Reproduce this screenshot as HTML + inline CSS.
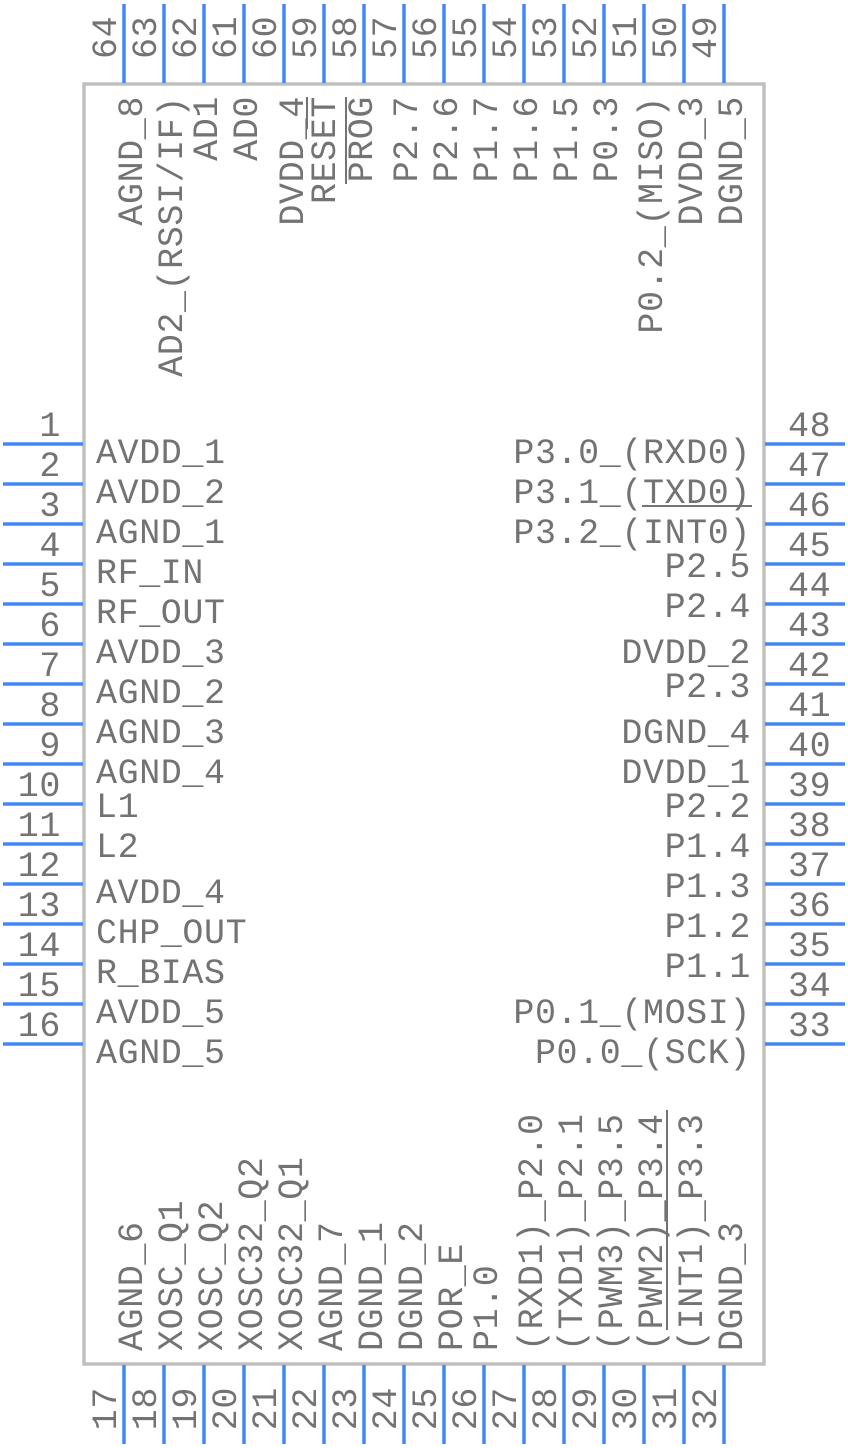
<!DOCTYPE html>
<html>
<head>
<meta charset="utf-8">
<style>
  html, body { margin: 0; padding: 0; background: #ffffff; }
  svg { display: block; }
  text { font-family: "Liberation Mono", "DejaVu Sans Mono", monospace; font-size: 35px; letter-spacing: 0.6px; fill: #737373; }
  .pin { stroke: #4287f5; stroke-width: 3.5; }
  .ol { stroke: #737373; stroke-width: 2; }
</style>
</head>
<body>
<svg width="848" height="1448" viewBox="0 0 848 1448" xmlns="http://www.w3.org/2000/svg">
  <rect x="0" y="0" width="848" height="1448" fill="#ffffff"/>
  <!-- body -->
  <rect x="84" y="84" width="680" height="1280" fill="none" stroke="#c0c0c0" stroke-width="3.5"/>

  <!-- left pins -->
  <g class="pin">
    <line x1="3" y1="444" x2="83" y2="444"/>
    <line x1="3" y1="484" x2="83" y2="484"/>
    <line x1="3" y1="524" x2="83" y2="524"/>
    <line x1="3" y1="564" x2="83" y2="564"/>
    <line x1="3" y1="604" x2="83" y2="604"/>
    <line x1="3" y1="644" x2="83" y2="644"/>
    <line x1="3" y1="684" x2="83" y2="684"/>
    <line x1="3" y1="724" x2="83" y2="724"/>
    <line x1="3" y1="764" x2="83" y2="764"/>
    <line x1="3" y1="804" x2="83" y2="804"/>
    <line x1="3" y1="844" x2="83" y2="844"/>
    <line x1="3" y1="884" x2="83" y2="884"/>
    <line x1="3" y1="924" x2="83" y2="924"/>
    <line x1="3" y1="964" x2="83" y2="964"/>
    <line x1="3" y1="1004" x2="83" y2="1004"/>
    <line x1="3" y1="1044" x2="83" y2="1044"/>
  </g>
  <!-- right pins -->
  <g class="pin">
    <line x1="765" y1="444" x2="845" y2="444"/>
    <line x1="765" y1="484" x2="845" y2="484"/>
    <line x1="765" y1="524" x2="845" y2="524"/>
    <line x1="765" y1="564" x2="845" y2="564"/>
    <line x1="765" y1="604" x2="845" y2="604"/>
    <line x1="765" y1="644" x2="845" y2="644"/>
    <line x1="765" y1="684" x2="845" y2="684"/>
    <line x1="765" y1="724" x2="845" y2="724"/>
    <line x1="765" y1="764" x2="845" y2="764"/>
    <line x1="765" y1="804" x2="845" y2="804"/>
    <line x1="765" y1="844" x2="845" y2="844"/>
    <line x1="765" y1="884" x2="845" y2="884"/>
    <line x1="765" y1="924" x2="845" y2="924"/>
    <line x1="765" y1="964" x2="845" y2="964"/>
    <line x1="765" y1="1004" x2="845" y2="1004"/>
    <line x1="765" y1="1044" x2="845" y2="1044"/>
  </g>
  <!-- top pins -->
  <g class="pin">
    <line x1="124" y1="4" x2="124" y2="83"/>
    <line x1="164" y1="4" x2="164" y2="83"/>
    <line x1="204" y1="4" x2="204" y2="83"/>
    <line x1="244" y1="4" x2="244" y2="83"/>
    <line x1="284" y1="4" x2="284" y2="83"/>
    <line x1="324" y1="4" x2="324" y2="83"/>
    <line x1="364" y1="4" x2="364" y2="83"/>
    <line x1="404" y1="4" x2="404" y2="83"/>
    <line x1="444" y1="4" x2="444" y2="83"/>
    <line x1="484" y1="4" x2="484" y2="83"/>
    <line x1="524" y1="4" x2="524" y2="83"/>
    <line x1="564" y1="4" x2="564" y2="83"/>
    <line x1="604" y1="4" x2="604" y2="83"/>
    <line x1="644" y1="4" x2="644" y2="83"/>
    <line x1="684" y1="4" x2="684" y2="83"/>
    <line x1="724" y1="4" x2="724" y2="83"/>
  </g>
  <!-- bottom pins -->
  <g class="pin">
    <line x1="124" y1="1365" x2="124" y2="1444"/>
    <line x1="164" y1="1365" x2="164" y2="1444"/>
    <line x1="204" y1="1365" x2="204" y2="1444"/>
    <line x1="244" y1="1365" x2="244" y2="1444"/>
    <line x1="284" y1="1365" x2="284" y2="1444"/>
    <line x1="324" y1="1365" x2="324" y2="1444"/>
    <line x1="364" y1="1365" x2="364" y2="1444"/>
    <line x1="404" y1="1365" x2="404" y2="1444"/>
    <line x1="444" y1="1365" x2="444" y2="1444"/>
    <line x1="484" y1="1365" x2="484" y2="1444"/>
    <line x1="524" y1="1365" x2="524" y2="1444"/>
    <line x1="564" y1="1365" x2="564" y2="1444"/>
    <line x1="604" y1="1365" x2="604" y2="1444"/>
    <line x1="644" y1="1365" x2="644" y2="1444"/>
    <line x1="684" y1="1365" x2="684" y2="1444"/>
    <line x1="724" y1="1365" x2="724" y2="1444"/>
  </g>

  <!-- left pin numbers -->
  <g text-anchor="end">
    <text x="61" y="436">1</text>
    <text x="61" y="476">2</text>
    <text x="61" y="516">3</text>
    <text x="61" y="556">4</text>
    <text x="61" y="596">5</text>
    <text x="61" y="636">6</text>
    <text x="61" y="676">7</text>
    <text x="61" y="716">8</text>
    <text x="61" y="756">9</text>
    <text x="61" y="796">10</text>
    <text x="61" y="836">11</text>
    <text x="61" y="876">12</text>
    <text x="61" y="916">13</text>
    <text x="61" y="956">14</text>
    <text x="61" y="996">15</text>
    <text x="61" y="1036">16</text>
  </g>
  <!-- right pin numbers -->
  <g>
    <text x="788" y="436">48</text>
    <text x="788" y="476">47</text>
    <text x="788" y="516">46</text>
    <text x="788" y="556">45</text>
    <text x="788" y="596">44</text>
    <text x="788" y="636">43</text>
    <text x="788" y="676">42</text>
    <text x="788" y="716">41</text>
    <text x="788" y="756">40</text>
    <text x="788" y="796">39</text>
    <text x="788" y="836">38</text>
    <text x="788" y="876">37</text>
    <text x="788" y="916">36</text>
    <text x="788" y="956">35</text>
    <text x="788" y="996">34</text>
    <text x="788" y="1036">33</text>
  </g>
  <!-- top pin numbers -->
  <g>
    <text transform="translate(116,59) rotate(-90)">64</text>
    <text transform="translate(156,59) rotate(-90)">63</text>
    <text transform="translate(196,59) rotate(-90)">62</text>
    <text transform="translate(236,59) rotate(-90)">61</text>
    <text transform="translate(276,59) rotate(-90)">60</text>
    <text transform="translate(316,59) rotate(-90)">59</text>
    <text transform="translate(356,59) rotate(-90)">58</text>
    <text transform="translate(396,59) rotate(-90)">57</text>
    <text transform="translate(436,59) rotate(-90)">56</text>
    <text transform="translate(476,59) rotate(-90)">55</text>
    <text transform="translate(516,59) rotate(-90)">54</text>
    <text transform="translate(556,59) rotate(-90)">53</text>
    <text transform="translate(596,59) rotate(-90)">52</text>
    <text transform="translate(636,59) rotate(-90)">51</text>
    <text transform="translate(676,59) rotate(-90)">50</text>
    <text transform="translate(716,59) rotate(-90)">49</text>
  </g>
  <!-- bottom pin numbers -->
  <g text-anchor="end">
    <text transform="translate(116,1387) rotate(-90)">17</text>
    <text transform="translate(156,1387) rotate(-90)">18</text>
    <text transform="translate(196,1387) rotate(-90)">19</text>
    <text transform="translate(236,1387) rotate(-90)">20</text>
    <text transform="translate(276,1387) rotate(-90)">21</text>
    <text transform="translate(316,1387) rotate(-90)">22</text>
    <text transform="translate(356,1387) rotate(-90)">23</text>
    <text transform="translate(396,1387) rotate(-90)">24</text>
    <text transform="translate(436,1387) rotate(-90)">25</text>
    <text transform="translate(476,1387) rotate(-90)">26</text>
    <text transform="translate(516,1387) rotate(-90)">27</text>
    <text transform="translate(556,1387) rotate(-90)">28</text>
    <text transform="translate(596,1387) rotate(-90)">29</text>
    <text transform="translate(636,1387) rotate(-90)">30</text>
    <text transform="translate(676,1387) rotate(-90)">31</text>
    <text transform="translate(716,1387) rotate(-90)">32</text>
  </g>

  <!-- left labels -->
  <g>
    <text x="96" y="463">AVDD_1</text>
    <text x="96" y="503">AVDD_2</text>
    <text x="96" y="543">AGND_1</text>
    <text x="96" y="583">RF_IN</text>
    <text x="96" y="623">RF_OUT</text>
    <text x="96" y="663">AVDD_3</text>
    <text x="96" y="703">AGND_2</text>
    <text x="96" y="743">AGND_3</text>
    <text x="96" y="783">AGND_4</text>
    <text x="96" y="817">L1</text>
    <text x="96" y="857">L2</text>
    <text x="96" y="903">AVDD_4</text>
    <text x="96" y="943">CHP_OUT</text>
    <text x="96" y="983">R_BIAS</text>
    <text x="96" y="1023">AVDD_5</text>
    <text x="96" y="1063">AGND_5</text>
  </g>
  <!-- right labels -->
  <g text-anchor="end">
    <text x="751" y="463">P3.0_(RXD0)</text>
    <text x="751" y="503">P3.1_(TXD0)</text>
    <text x="751" y="543">P3.2_(INT0)</text>
    <text x="751" y="577">P2.5</text>
    <text x="751" y="617">P2.4</text>
    <text x="751" y="663">DVDD_2</text>
    <text x="751" y="697">P2.3</text>
    <text x="751" y="743">DGND_4</text>
    <text x="751" y="783">DVDD_1</text>
    <text x="751" y="817">P2.2</text>
    <text x="751" y="857">P1.4</text>
    <text x="751" y="897">P1.3</text>
    <text x="751" y="937">P1.2</text>
    <text x="751" y="977">P1.1</text>
    <text x="751" y="1023">P0.1_(MOSI)</text>
    <text x="751" y="1063">P0.0_(SCK)</text>
  </g>
  <!-- top labels -->
  <g text-anchor="end">
    <text transform="translate(142,96) rotate(-90)">AGND_8</text>
    <text transform="translate(182,96) rotate(-90)">AD2_(RSSI/IF)</text>
    <text transform="translate(217,96) rotate(-90)">AD1</text>
    <text transform="translate(257,96) rotate(-90)">AD0</text>
    <text transform="translate(303,96) rotate(-90)">DVDD_4</text>
    <text transform="translate(335,96) rotate(-90)">RESET</text>
    <text transform="translate(372,96) rotate(-90)">PROG</text>
    <text transform="translate(417,96) rotate(-90)">P2.7</text>
    <text transform="translate(457,96) rotate(-90)">P2.6</text>
    <text transform="translate(497,96) rotate(-90)">P1.7</text>
    <text transform="translate(537,96) rotate(-90)">P1.6</text>
    <text transform="translate(577,96) rotate(-90)">P1.5</text>
    <text transform="translate(617,96) rotate(-90)">P0.3</text>
    <text transform="translate(662,96) rotate(-90)">P0.2_(MISO)</text>
    <text transform="translate(702,96) rotate(-90)">DVDD_3</text>
    <text transform="translate(742,96) rotate(-90)">DGND_5</text>
  </g>
  <!-- bottom labels -->
  <g>
    <text transform="translate(142,1351) rotate(-90)">AGND_6</text>
    <text transform="translate(182,1351) rotate(-90)">XOSC_Q1</text>
    <text transform="translate(222,1351) rotate(-90)">XOSC_Q2</text>
    <text transform="translate(262,1351) rotate(-90)">XOSC32_Q2</text>
    <text transform="translate(302,1351) rotate(-90)">XOSC32_Q1</text>
    <text transform="translate(342,1351) rotate(-90)">AGND_7</text>
    <text transform="translate(382,1351) rotate(-90)">DGND_1</text>
    <text transform="translate(422,1351) rotate(-90)">DGND_2</text>
    <text transform="translate(462,1351) rotate(-90)">POR_E</text>
    <text transform="translate(497,1351) rotate(-90)">P1.0</text>
    <text transform="translate(542,1351) rotate(-90)">(RXD1)_P2.0</text>
    <text transform="translate(582,1351) rotate(-90)">(TXD1)_P2.1</text>
    <text transform="translate(622,1351) rotate(-90)">(PWM3)_P3.5</text>
    <text transform="translate(662,1351) rotate(-90)">(PWM2)_P3.4</text>
    <text transform="translate(702,1351) rotate(-90)">(INT1)_P3.3</text>
    <text transform="translate(742,1351) rotate(-90)">DGND_3</text>
  </g>

  <!-- overline / underline marks -->
  <g class="ol">
    <line x1="642" y1="506" x2="752" y2="506"/>
    <line x1="346" y1="97" x2="346" y2="184"/>
    <line x1="307" y1="97" x2="307" y2="129"/>
    <line x1="667" y1="1110" x2="667" y2="1330"/>
  </g>
</svg>
</body>
</html>
